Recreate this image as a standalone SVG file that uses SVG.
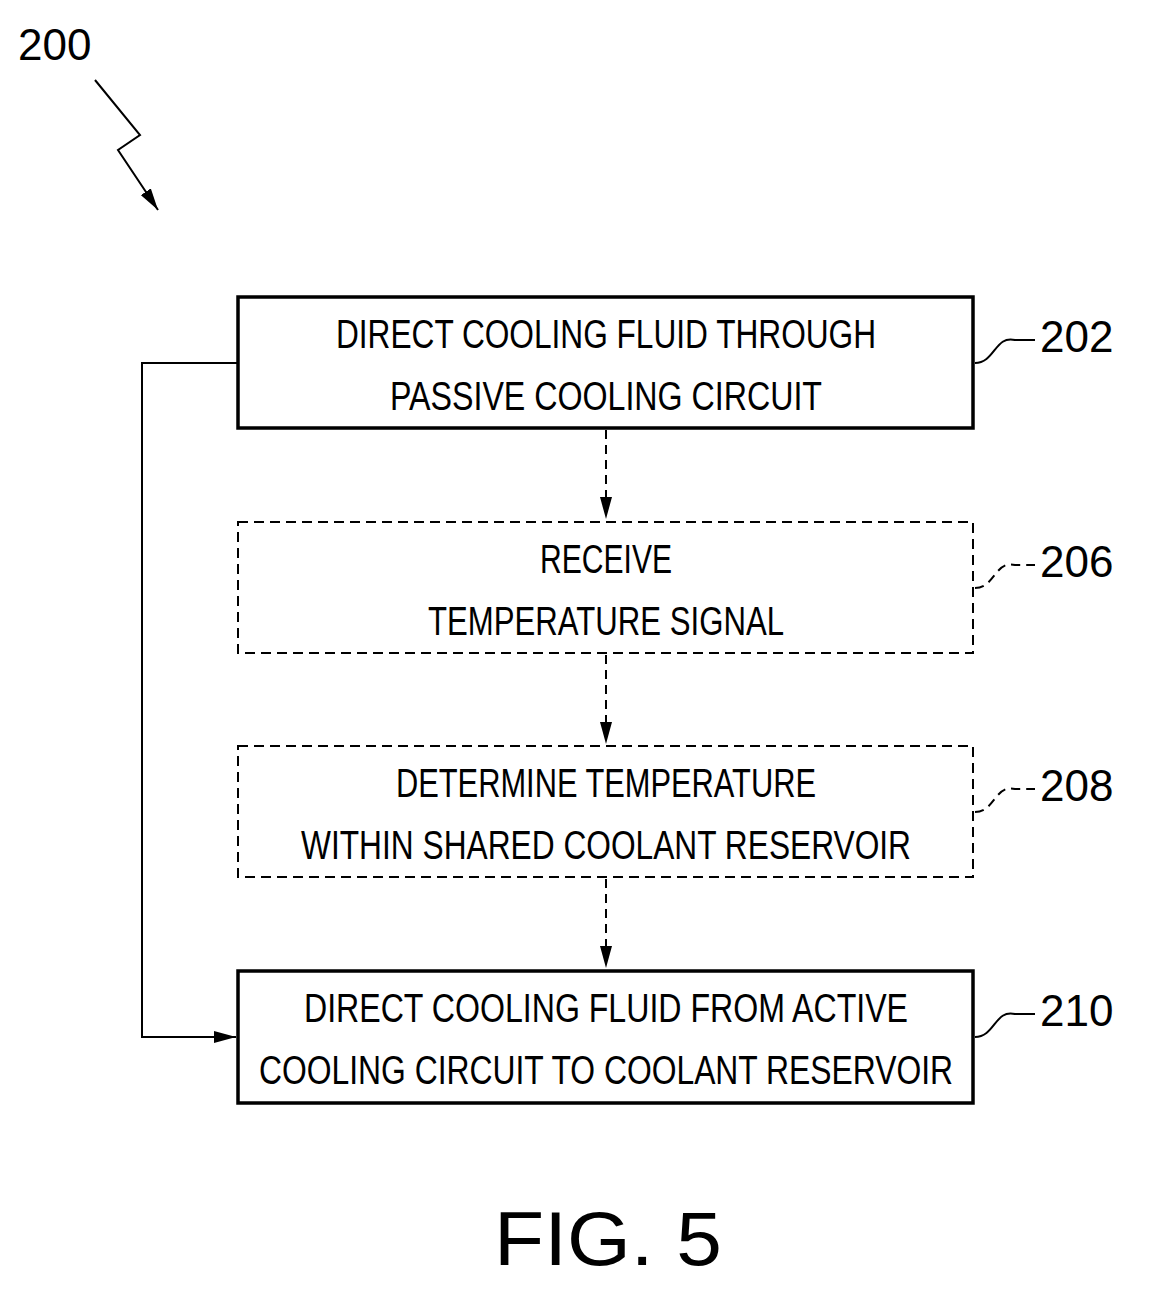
<svg xmlns="http://www.w3.org/2000/svg" width="1163" height="1290" viewBox="0 0 1163 1290">
<style>
.t{font-family:"Liberation Sans",Arial,sans-serif;font-size:40px;fill:#000;text-anchor:middle}
.r{font-family:"Liberation Sans",Arial,sans-serif;font-size:44px;fill:#000}
.box{fill:#fff;stroke:#000;stroke-width:3.5}
.dbox{fill:#fff;stroke:#000;stroke-width:2;stroke-dasharray:10,6}
.ln{fill:none;stroke:#000;stroke-width:2}
.dl{fill:none;stroke:#000;stroke-width:2;stroke-dasharray:9,6}
</style>
<defs><marker id="a" markerWidth="22" markerHeight="12" refX="22" refY="6" orient="auto" markerUnits="userSpaceOnUse"><path d="M0,0L22,6L0,12z" fill="#000"/></marker></defs>
<rect width="1163" height="1290" fill="#fff"/>
<g id="ref200"><text class="r" x="18" y="60">200</text>
<path class="ln" d="M95,80L140,135L118,150L158,210" marker-end="url(#a)"/></g>
<g id="connectors">
<path class="dl" d="M606,430V519" marker-end="url(#a)"/>
<path class="dl" d="M606,655V744" marker-end="url(#a)"/>
<path class="dl" d="M606,879V968" marker-end="url(#a)"/>
<path class="ln" d="M238,363H142V1037H236" marker-end="url(#a)"/>
</g>
<g id="n202"><rect class="box" x="238" y="297" width="735" height="131"/>
<text class="t" x="606" y="348" textLength="540" lengthAdjust="spacingAndGlyphs">DIRECT COOLING FLUID THROUGH</text>
<text class="t" x="606" y="410" textLength="432" lengthAdjust="spacingAndGlyphs">PASSIVE COOLING CIRCUIT</text>
<path class="ln" d="M975,363C995,363 995,335 1015,340L1035,340"/><text class="r" x="1040" y="352">202</text></g>
<g id="n206"><rect class="dbox" x="238" y="522" width="735" height="131"/>
<text class="t" x="606" y="573" textLength="132" lengthAdjust="spacingAndGlyphs">RECEIVE</text>
<text class="t" x="606" y="635" textLength="356" lengthAdjust="spacingAndGlyphs">TEMPERATURE SIGNAL</text>
<path class="dl" d="M975,588C995,588 995,560 1015,565L1035,565"/><text class="r" x="1040" y="577">206</text></g>
<g id="n208"><rect class="dbox" x="238" y="746" width="735" height="131"/>
<text class="t" x="606" y="797" textLength="420" lengthAdjust="spacingAndGlyphs">DETERMINE TEMPERATURE</text>
<text class="t" x="606" y="859" textLength="610" lengthAdjust="spacingAndGlyphs">WITHIN SHARED COOLANT RESERVOIR</text>
<path class="dl" d="M975,812C995,812 995,784 1015,789L1035,789"/><text class="r" x="1040" y="801">208</text></g>
<g id="n210"><rect class="box" x="238" y="971" width="735" height="132"/>
<text class="t" x="606" y="1022" textLength="604" lengthAdjust="spacingAndGlyphs">DIRECT COOLING FLUID FROM ACTIVE</text>
<text class="t" x="606" y="1084" textLength="694" lengthAdjust="spacingAndGlyphs">COOLING CIRCUIT TO COOLANT RESERVOIR</text>
<path class="ln" d="M975,1037C995,1037 995,1009 1015,1014L1035,1014"/><text class="r" x="1040" y="1026">210</text></g>
<text x="608" y="1265" style="font-family:'Liberation Sans',Arial,sans-serif;font-size:76px;text-anchor:middle" textLength="228" lengthAdjust="spacingAndGlyphs">FIG. 5</text>
</svg>
